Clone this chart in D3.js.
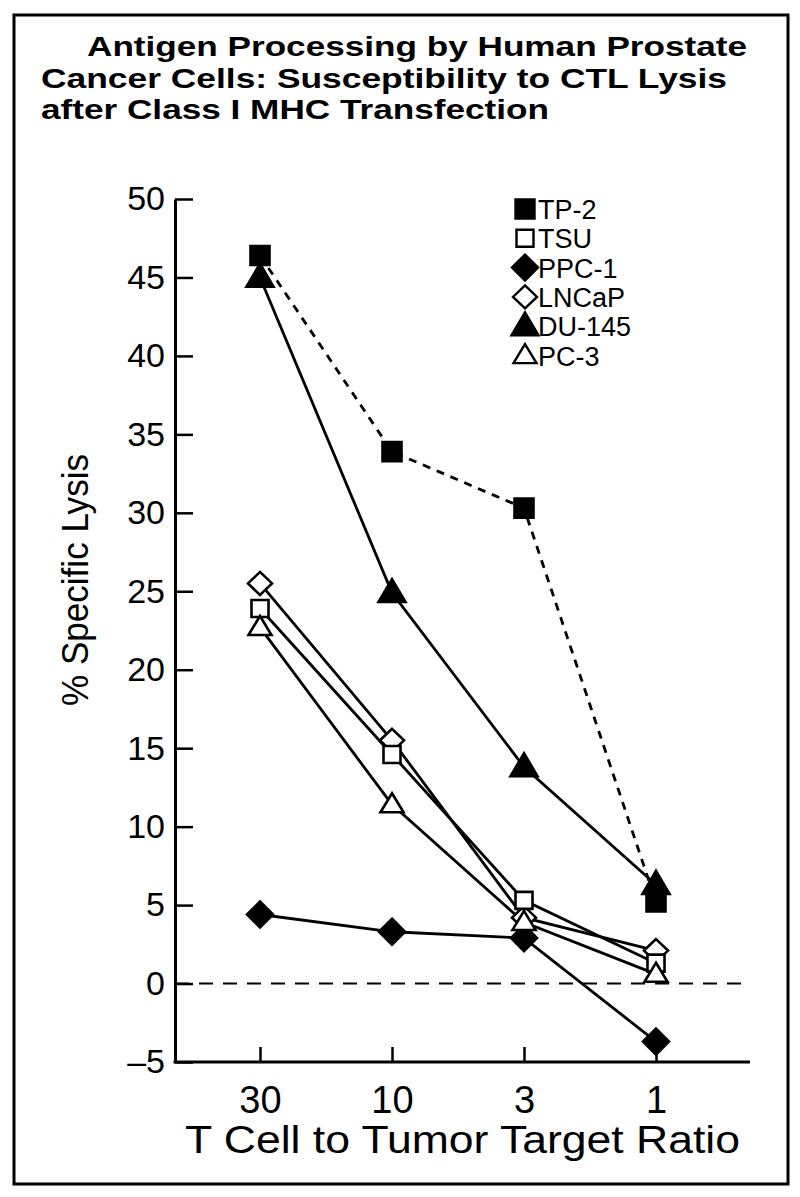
<!DOCTYPE html>
<html>
<head>
<meta charset="utf-8">
<script src="https://cdn.jsdelivr.net/npm/d3@7"></script>
<style>
  html, body { margin: 0; padding: 0; background: #fff; }
  svg { display: block; }
  text { font-family: "Liberation Sans", Arial, Helvetica, sans-serif; fill: #000; }
</style>
</head>
<body>
<svg id="chart" width="800" height="1197"></svg>
<script>
// ---- data ----
const categories = ["30", "10", "3", "1"];
const seriesNames = ["TP-2", "TSU", "PPC-1", "LNCaP", "DU-145", "PC-3"];
const tp2   = [46.4, 33.9, 30.3, 5.2];
const tsu   = [23.9, 14.6, 5.3, 1.3];
const ppc1  = [4.4, 3.3, 2.9, -3.7];
const lncap = [25.5, 15.5, 4.2, 2.1];
const du145 = [45.0, 24.9, 13.8, 6.3];
const pc3   = [22.7, 11.4, 3.9, 0.6];
const yTicks = [-5, 0, 5, 10, 15, 20, 25, 30, 35, 40, 45, 50];
const titleLines = [
  "Antigen Processing by Human Prostate",
  "Cancer Cells: Susceptibility to CTL Lysis",
  "after Class I MHC Transfection"
];
const xTitle = "T Cell to Tumor Target Ratio";
const yTitle = "% Specific Lysis";

// ---- styling per series (shape, fill, dash) ----
const seriesStyle = {
  "TP-2":   { shape: "square",   filled: true,  dashed: true },
  "TSU":    { shape: "square",   filled: false, dashed: false },
  "PPC-1":  { shape: "diamond",  filled: true,  dashed: false },
  "LNCaP":  { shape: "diamond",  filled: false, dashed: false },
  "DU-145": { shape: "triangle", filled: true,  dashed: false },
  "PC-3":   { shape: "triangle", filled: false, dashed: false }
};
const seriesValues = [tp2, tsu, ppc1, lncap, du145, pc3];
const series = seriesNames.map((n, i) => ({ name: n, values: seriesValues[i], ...seriesStyle[n] }));

function markerPath(shape, filled) {
  if (shape === "square") {
    const h = filled ? 9.5 : 8.5;
    return `M${-h},${-h}H${h}V${h}H${-h}Z`;
  }
  if (shape === "diamond") {
    const h = filled ? 13 : 12, v = filled ? 13 : 11.5;
    return `M0,${-v}L${h},0L0,${v}L${-h},0Z`;
  }
  const w = filled ? 13.5 : 11.5, ht = filled ? 23 : 19;
  return `M0,${-ht * 0.6}L${w},${ht * 0.4}L${-w},${ht * 0.4}Z`;
}

const svg = d3.select("#chart");

// frame
svg.append("rect")
  .attr("x", 14).attr("y", 15).attr("width", 774).attr("height", 1169)
  .attr("fill", "none").attr("stroke", "#000").attr("stroke-width", 3);

// title (one text block, three lines)
const titleGeom = [
  { x: 87, y: 56, w: 660 },
  { x: 41, y: 87.5, w: 686 },
  { x: 41, y: 119, w: 508 }
];
const title = svg.append("text")
  .attr("font-size", 28)
  .attr("font-weight", "bold");
title.selectAll("tspan").data(titleLines).join("tspan")
  .attr("x", (d, i) => titleGeom[i].x)
  .attr("y", (d, i) => titleGeom[i].y)
  .attr("textLength", (d, i) => titleGeom[i].w)
  .attr("lengthAdjust", "spacingAndGlyphs")
  .text(d => d);

// scales
const y = d3.scaleLinear().domain([-5, 50]).range([1062, 199]);
const x = d3.scalePoint().domain(categories).range([260, 656]);
const xLeft = 175, xRight = 750;

// y axis (ticks inward)
const yAxis = svg.append("g")
  .attr("transform", `translate(${xLeft},0)`)
  .call(d3.axisLeft(y).tickValues(yTicks).tickSize(-18).tickSizeOuter(0).tickPadding(10)
    .tickFormat(d => d < 0 ? "\u2013" + Math.abs(d) : String(d)));
yAxis.select(".domain").attr("stroke-width", 3);
yAxis.selectAll(".tick line").attr("stroke-width", 2.5);
yAxis.selectAll(".tick text")
  .attr("font-size", 34)
  .attr("font-family", "'Liberation Sans', Arial, sans-serif")
  .attr("fill", "#000");

// x axis (ticks inward)
const xAxis = svg.append("g")
  .attr("transform", `translate(0,${y(-5)})`)
  .call(d3.axisBottom(x).tickSize(-15).tickSizeOuter(0).tickPadding(24));
xAxis.select(".domain").remove();
xAxis.append("line")
  .attr("x1", xLeft - 1.5).attr("x2", xRight).attr("y1", 0).attr("y2", 0)
  .attr("stroke", "#000").attr("stroke-width", 3);
xAxis.selectAll(".tick line").attr("stroke-width", 2.5);
xAxis.selectAll(".tick text")
  .attr("font-size", 38)
  .attr("font-family", "'Liberation Sans', Arial, sans-serif")
  .attr("fill", "#000");

// axis titles
svg.append("text")
  .attr("x", (xLeft + xRight) / 2).attr("y", 1153)
  .attr("text-anchor", "middle")
  .attr("font-size", 38)
  .attr("textLength", 555).attr("lengthAdjust", "spacingAndGlyphs")
  .text(xTitle);

svg.append("text")
  .attr("transform", "translate(88,580) rotate(-90)")
  .attr("text-anchor", "middle")
  .attr("font-size", 37)
  .attr("textLength", 252).attr("lengthAdjust", "spacingAndGlyphs")
  .text(yTitle);

// zero reference line
svg.append("line")
  .attr("x1", xLeft).attr("x2", 742)
  .attr("y1", y(0)).attr("y2", y(0))
  .attr("stroke", "#000").attr("stroke-width", 2)
  .attr("stroke-dasharray", "14,10");

// lines
const line = d3.line().x((d, i) => x(categories[i])).y(d => y(d));
svg.append("g").selectAll("path").data(series).join("path")
  .attr("d", d => line(d.values))
  .attr("fill", "none")
  .attr("stroke", "#000")
  .attr("stroke-width", 2.8)
  .attr("stroke-dasharray", d => d.dashed ? "8,7" : null);

// markers (filled first, then open ones on top)
const order = ["TP-2", "DU-145", "PPC-1", "LNCaP", "TSU", "PC-3"];
const ordered = order.map(n => series.find(s => s.name === n));
ordered.forEach(s => {
  svg.append("g").selectAll("path").data(s.values).join("path")
    .attr("transform", (d, i) => `translate(${x(categories[i])},${y(d)})`)
    .attr("d", markerPath(s.shape, s.filled))
    .attr("fill", s.filled ? "#000" : "#fff")
    .attr("stroke", "#000")
    .attr("stroke-width", 2.6)
    .attr("stroke-linejoin", "miter");
});

// legend
const legend = svg.append("g").attr("transform", "translate(525,209)");
const rows = legend.selectAll("g").data(series).join("g")
  .attr("transform", (d, i) => `translate(0,${i * 29.3})`);
rows.append("path")
  .attr("d", d => markerPath(d.shape, d.filled))
  .attr("fill", d => d.filled ? "#000" : "#fff")
  .attr("stroke", "#000")
  .attr("stroke-width", 2.4);
rows.append("text")
  .attr("x", 13).attr("y", 10)
  .attr("font-size", 27)
  .text(d => d.name);
</script>
</body>
</html>
